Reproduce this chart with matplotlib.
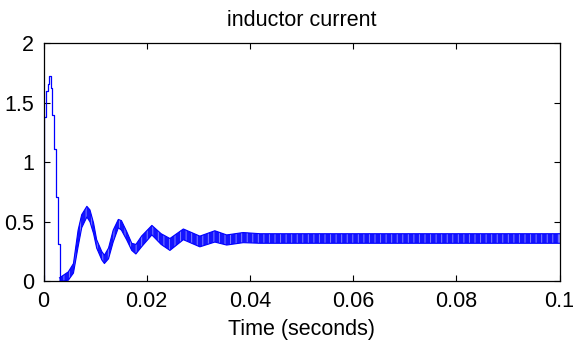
import matplotlib
matplotlib.use("Agg")
import matplotlib.pyplot as plt

plt.rcParams['font.family'] = ['Liberation Sans', 'DejaVu Sans']
plt.rcParams['hatch.linewidth'] = 0.7

# start-up transient (zero-order-hold samples)
t_start = [0, 0.0001, 0.0004, 0.0008, 0.0011, 0.0014, 0.0017, 0.0021, 0.0024, 0.0028, 0.0031]
i_start = [0, 1.38, 1.60, 1.66, 1.72, 1.62, 1.40, 1.11, 0.71, 0.31, 0.0]

# ripple band after the transient: upper / lower envelope of the current
t_band = [0.0031, 0.0048, 0.0058, 0.0067, 0.0074, 0.0084, 0.0090, 0.0097, 0.0103,
          0.0113, 0.0118, 0.0126, 0.0135, 0.0145, 0.0151, 0.0161, 0.0171, 0.0179,
          0.0190, 0.0210, 0.0228, 0.0245, 0.0271, 0.0303, 0.0332, 0.0355, 0.0387,
          0.0420, 0.0600, 0.0800, 0.1000]
i_upper = [0.03, 0.08, 0.15, 0.43, 0.56, 0.63, 0.60, 0.49, 0.35,
           0.25, 0.22, 0.28, 0.43, 0.52, 0.51, 0.42, 0.32, 0.31,
           0.38, 0.47, 0.40, 0.36, 0.44, 0.38, 0.425, 0.39, 0.41,
           0.40, 0.40, 0.40, 0.40]
i_lower = [0.0, 0.01, 0.07, 0.29, 0.45, 0.54, 0.50, 0.40, 0.28,
           0.18, 0.15, 0.19, 0.33, 0.45, 0.43, 0.35, 0.26, 0.23,
           0.29, 0.39, 0.31, 0.26, 0.35, 0.29, 0.33, 0.305, 0.325,
           0.32, 0.32, 0.32, 0.32]

x_ticks = [0, 0.02, 0.04, 0.06, 0.08, 0.1]
x_labels = ['0', '0.02', '0.04', '0.06', '0.08', '0.1']
y_ticks = [0, 0.5, 1, 1.5, 2]
y_labels = ['0', '0.5', '1', '1.5', '2']

fig = plt.figure(figsize=(5.78, 3.45), dpi=100)
ax = fig.add_axes([0.0753, 0.1843, 0.8927, 0.6911])

ax.plot(t_start, i_start, color='blue', lw=0.9, drawstyle='steps-post')
# solid band + light vertical stripes to mimic the switching ripple
ax.fill_between(t_band, i_lower, i_upper, facecolor='#1414ff', edgecolor='none')
ax.fill_between(t_band, i_lower, i_upper, facecolor='none', edgecolor='#8080ff',
                hatch='|||', linewidth=0)
ax.plot(t_band, i_upper, color='blue', lw=0.8)
ax.plot(t_band, i_lower, color='blue', lw=0.8)

ax.set_xlim(0, 0.1)
ax.set_ylim(0, 2)
ax.set_xticks(x_ticks)
ax.set_xticklabels(x_labels)
ax.set_yticks(y_ticks)
ax.set_yticklabels(y_labels)
ax.tick_params(direction='in', length=4, width=0.8, top=True, right=True,
               labelsize=15.5, pad=7)
for s in ax.spines.values():
    s.set_linewidth(0.9)

ax.set_title('inductor current', fontsize=15.5, pad=12)
ax.set_xlabel('Time (seconds)', fontsize=15.5, labelpad=5)

fig.savefig('out.png', dpi=100)
